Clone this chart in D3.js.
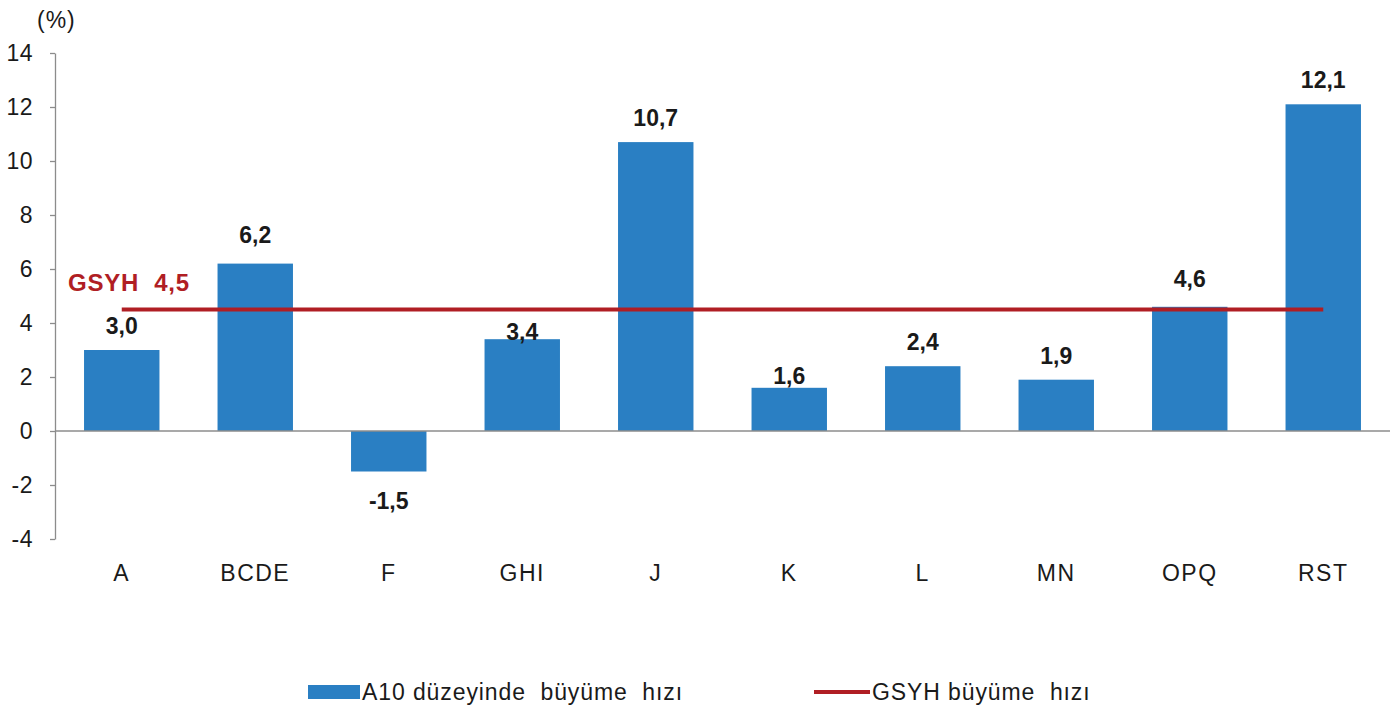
<html>

<head>
  <title>A10 büyüme hızı</title>
  <script src="https://d3js.org/d3.v7.min.js"></script>
  <style>
    body { margin: 0; background: #fff; }
    text { font-family: "Liberation Sans", Arial, sans-serif; fill: #1a1a1a; }
  </style>
</head>

<body>
  <div id="chart"></div>

  <script type="text/javascript">

    // Data
    var categories = ['A', 'BCDE', 'F', 'GHI', 'J', 'K', 'L', 'MN', 'OPQ', 'RST'];
    var growth = [3.0, 6.2, -1.5, 3.4, 10.7, 1.6, 2.4, 1.9, 4.6, 12.1];
    var gdpGrowth = 4.5;
    var yTicks = [-4, -2, 0, 2, 4, 6, 8, 10, 12, 14];
    var legendLabels = ['A10 düzeyinde  büyüme  hızı', 'GSYH büyüme  hızı'];

    // a few labels were moved by hand in the original
    var labelNudge = {GHI: 17, K: 12, BCDE: -5, OPQ: -4};

    var barColor = '#2a7fc3';
    var lineColor = '#b01e24';
    var axisColor = '#8c8c8c';
    // plain hyphen for negatives, comma as decimal mark
    var fmt = function(v) { return v.toFixed(1).replace('.', ','); };

    var W = 1395, H = 713;

    var svg = d3.select('#chart')
                .append('svg')
                  .attr('width', W)
                  .attr('height', H);

    // Scales
    var x = d3.scaleBand()
              .domain(categories)
              .range([55, 1390])
              .paddingInner(0.435)
              .paddingOuter(0.2175);

    var y = d3.scaleLinear()
              .domain([-4, 14])
              .range([539, 53]);

    // Bars
    svg.selectAll('.bar')
         .data(growth)
         .enter().append('rect')
           .attr('class', 'bar')
           .attr('x', function(d, i) { return x(categories[i]); })
           .attr('width', x.bandwidth())
           .attr('y', function(d) { return y(Math.max(0, d)); })
           .attr('height', function(d) { return Math.abs(y(d) - y(0)); })
           .style('fill', barColor);

    // Y axis
    var y_axis = d3.axisLeft(y)
                   .tickValues(yTicks)
                   .tickFormat(function(d) { return String(d); })
                   .tickSize(5)
                   .tickPadding(17)
                   .tickSizeOuter(0);

    var gy = svg.append('g')
                  .attr('class', 'y-axis')
                  .attr('transform', 'translate(' + x.range()[0] + ',0)')
                  .call(y_axis);
    gy.select('.domain').style('stroke', axisColor).style('stroke-width', 1.3);
    gy.selectAll('.tick line').style('stroke', axisColor).style('stroke-width', 1.3);
    gy.selectAll('.tick text')
        .style('font-size', '23px')
        .style('letter-spacing', '0.5px')
        .style('font-family', '"Liberation Sans", Arial, sans-serif')
        .style('fill', '#1a1a1a');

    // Zero line
    svg.append('line')
         .attr('x1', x.range()[0])
         .attr('x2', x.range()[1])
         .attr('y1', y(0))
         .attr('y2', y(0))
         .style('stroke', axisColor)
         .style('stroke-width', 1.3);

    // Category labels
    var x_axis = d3.axisBottom(x).tickSize(0).tickPadding(26);
    var gx = svg.append('g')
                  .attr('class', 'x-axis')
                  .attr('transform', 'translate(0,' + y(-4) + ')')
                  .call(x_axis);
    gx.select('.domain').remove();
    gx.selectAll('.tick text')
        .style('font-size', '23px')
        .style('letter-spacing', '1.5px')
        .style('font-family', '"Liberation Sans", Arial, sans-serif')
        .style('fill', '#1a1a1a');

    // GSYH line, centre of first bar to centre of last bar
    var half = x.bandwidth() / 2;
    svg.append('line')
         .attr('x1', x(categories[0]) + half)
         .attr('x2', x(categories[categories.length - 1]) + half)
         .attr('y1', y(gdpGrowth))
         .attr('y2', y(gdpGrowth))
         .style('stroke', lineColor)
         .style('stroke-width', 4);

    // Value labels
    svg.selectAll('.value')
         .data(growth)
         .enter().append('text')
           .attr('class', 'value')
           .attr('x', function(d, i) { return x(categories[i]) + half; })
           .attr('y', function(d, i) {
             var nudge = labelNudge[categories[i]] || 0;
             return d >= 0 ? y(d) - 16 + nudge : y(d) + 37;
           })
           .attr('text-anchor', 'middle')
           .style('font-size', '23px')
           .style('font-weight', 'bold')
           .text(function(d) { return fmt(d); });

    svg.append('text')
         .attr('x', 68)
         .attr('y', y(gdpGrowth) - 19)
         .attr('xml:space', 'preserve')
         .style('white-space', 'pre')
         .style('font-size', '24px')
         .style('letter-spacing', '0.8px')
         .style('font-weight', 'bold')
         .style('fill', lineColor)
         .text('GSYH  ' + fmt(gdpGrowth));

    // Unit
    svg.append('text')
         .attr('x', 37)
         .attr('y', 28)
         .style('font-size', '23px')
         .style('letter-spacing', '1px')
         .text('(%)');

    // Legend
    var legend = svg.append('g').attr('class', 'legend');
    legend.append('rect')
            .attr('x', 308)
            .attr('y', 685)
            .attr('width', 52)
            .attr('height', 14)
            .style('fill', barColor);
    legend.append('text')
            .attr('x', 362)
            .attr('y', 700)
            .style('white-space', 'pre')
            .style('font-size', '23px')
            .style('letter-spacing', '0.9px')
            .text(legendLabels[0]);
    legend.append('line')
            .attr('x1', 814)
            .attr('x2', 870)
            .attr('y1', 692)
            .attr('y2', 692)
            .style('stroke', lineColor)
            .style('stroke-width', 4);
    legend.append('text')
            .attr('x', 872)
            .attr('y', 700)
            .style('white-space', 'pre')
            .style('font-size', '23px')
            .style('letter-spacing', '0.9px')
            .text(legendLabels[1]);

  </script>
</body>

</html>
